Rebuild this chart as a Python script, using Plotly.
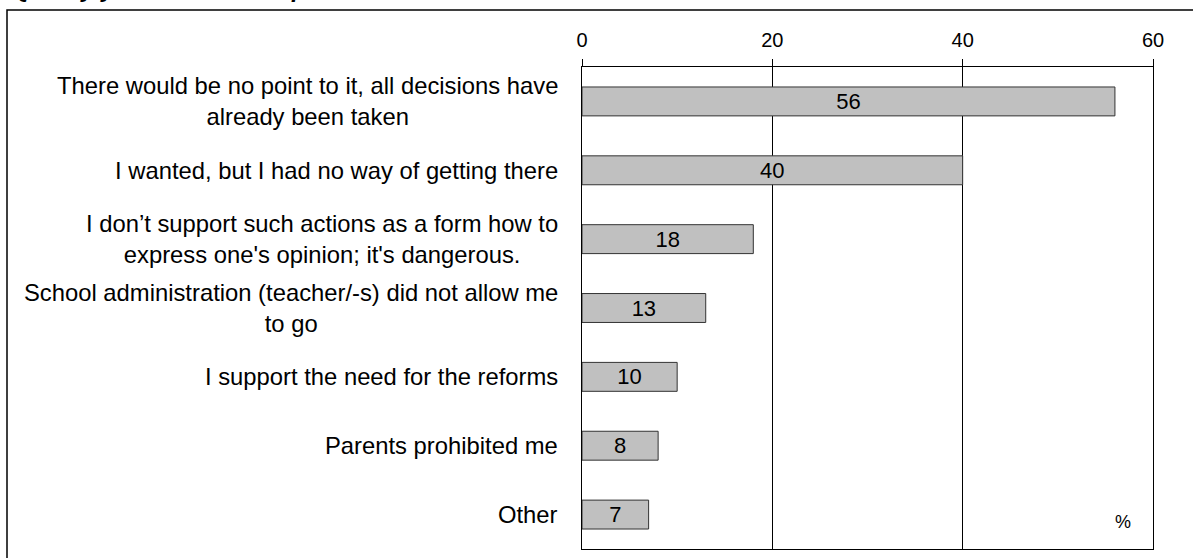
import plotly.graph_objects as go

categories = [
    "There would be no point to it, all decisions have<br>already been taken",
    "I wanted, but I had no way of getting there",
    "I don’t support such actions as a form how to<br>express one's opinion; it's dangerous.",
    "School administration (teacher/-s) did not allow me<br>to go",
    "I support the need for the reforms",
    "Parents prohibited me",
    "Other",
]
values = [56, 40, 18, 13, 10, 8, 7]
tick_vals = [0, 20, 40, 60]
tick_text = ["0", "20", "40", "60"]
title_text = "Q. Why you did not take part?"
unit_text = "%"

W, H = 1193, 558
L, R, T, B = 582, 40, 67, 9
PW, PH = W - L - R, H - T - B

FONT = "Arial, Liberation Sans, sans-serif"

fig = go.Figure()
fig.add_trace(go.Bar(
    x=values, y=list(range(len(categories))), orientation="h",
    marker=dict(color="#c0c0c0", line=dict(color="#333333", width=1)),
    width=0.42,
    text=[str(v) for v in values], textposition="inside",
    insidetextanchor="middle", textangle=0, constraintext="none",
    textfont=dict(family=FONT, size=22, color="#000"),
    hoverinfo="skip",
))

annotations = []
for i, c in enumerate(categories):
    annotations.append(dict(
        x=0, xref="paper", y=i, yref="y", text=c, showarrow=False,
        xanchor="right", yanchor="middle", align="center", xshift=-22,
        font=dict(family=FONT, size=23.8, color="#000"),
    ))
annotations.append(dict(
    x=(1123 - L) / PW, xref="paper", y=(H - B - 522) / PH, yref="paper",
    text=unit_text, showarrow=False, xanchor="center", yanchor="middle",
    font=dict(family=FONT, size=18, color="#000"),
))
annotations.append(dict(
    x=(10 - L) / PW, xref="paper", y=1, yref="paper", yshift=T - 4,
    text="<b><i>" + title_text + "</i></b>", showarrow=False,
    xanchor="left", yanchor="bottom",
    font=dict(family=FONT, size=24, color="#000"),
))

shapes = [dict(
    type="rect", xref="paper", yref="paper",
    x0=(7 - L) / PW, x1=(1205 - L) / PW,
    y0=(H - B - 570) / PH, y1=(H - B - 10) / PH,
    line=dict(color="#000", width=1.5), fillcolor="rgba(0,0,0,0)", layer="below",
)]

fig.update_layout(
    width=W, height=H, margin=dict(l=L, r=R, t=T, b=B),
    paper_bgcolor="white", plot_bgcolor="white",
    showlegend=False, bargap=0.5,
    annotations=annotations, shapes=shapes,
    xaxis=dict(
        side="top", range=[0, 60], tickvals=tick_vals, ticktext=tick_text,
        ticks="outside", ticklen=7, tickcolor="#000", tickwidth=1,
        ticklabelstandoff=4,
        showgrid=True, gridcolor="#000", gridwidth=1,
        showline=True, linecolor="#000", linewidth=1, mirror=True,
        zeroline=False,
        tickfont=dict(family=FONT, size=20, color="#000"),
        fixedrange=True,
    ),
    yaxis=dict(
        range=[len(categories) - 0.5, -0.5], showticklabels=False,
        showgrid=False, zeroline=False,
        showline=True, linecolor="#000", linewidth=1, mirror=True,
        fixedrange=True,
    ),
)

fig.write_html(
    "out.html",
    config={"displayModeBar": False},
    post_script="document.body.style.margin='0';document.body.style.padding='0';",
)
